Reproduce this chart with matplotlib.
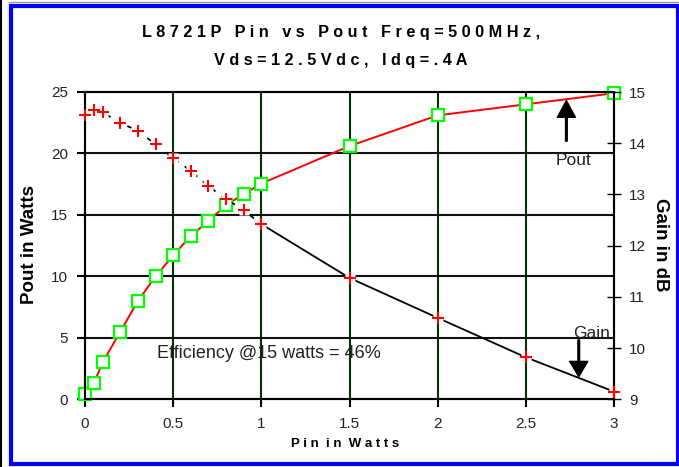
import matplotlib
matplotlib.use("Agg")
import matplotlib.pyplot as plt
from matplotlib.patches import Rectangle
from matplotlib.lines import Line2D

plt.rcParams["font.family"] = ["Liberation Sans", "DejaVu Sans"]

# data
pin = [0, 0.05, 0.1, 0.2, 0.3, 0.4, 0.5, 0.6, 0.7, 0.8, 0.9, 1.0, 1.5, 2.0, 2.5, 3.0]
pout = [0.4, 1.3, 3.0, 5.5, 8.0, 10.0, 11.7, 13.3, 14.5, 15.8, 16.7, 17.55, 20.6, 23.1, 24.0, 24.9]
gain = [14.56, 14.64, 14.6, 14.4, 14.24, 13.98, 13.71, 13.46, 13.16, 12.91, 12.69, 12.42,
        11.37, 10.59, 9.82, 9.15]
x_ticks = [0, 0.5, 1, 1.5, 2, 2.5, 3]
x_tick_labels = ["0", "0.5", "1", "1.5", "2", "2.5", "3"]
pout_ticks = [0, 5, 10, 15, 20, 25]
gain_ticks = [9, 10, 11, 12, 13, 14, 15]

title1 = "L8721P Pin vs Pout Freq=500MHz,"
title2 = "Vds=12.5Vdc, Idq=.4A"


def spaced(s):
    # wide letter spacing like the original
    return " ".join(s)


W, H = 679, 467
fig = plt.figure(figsize=(W / 100, H / 100), dpi=100)
ax = fig.add_axes([85 / W, (H - 399.3) / H, 529 / W, 307.3 / H])
ax2 = ax.twinx()

ax.set_xlim(0, 3)
ax.set_ylim(0, 25)
ax2.set_ylim(9, 15)

# grid
for v in x_ticks[1:-1]:
    ax.axvline(v, color="#003300", lw=1.5, zorder=1)
for h in pout_ticks[1:-1]:
    ax.axhline(h, color="#111111", lw=1.5, zorder=1)

for sp in ax.spines.values():
    sp.set_linewidth(1.5)
    sp.set_color("black")
for sp in ax2.spines.values():
    sp.set_linewidth(1.5)
    sp.set_color("black")

# Pout
ax.plot(pin, pout, color="red", lw=1.4, marker="s", markersize=8,
        markerfacecolor="white", markeredgecolor="#00ff00", markeredgewidth=1.6,
        zorder=3, clip_on=False)

# Gain: dotted up to 1 W, solid after
k = pin.index(1.0)
ax2.plot(pin[:k + 1], gain[:k + 1], color="black", lw=1.3, dashes=(2.5, 4), zorder=2)
ax2.plot(pin[k:], gain[k:], color="black", lw=1.3, zorder=2)
ax2.plot(pin, gain, ls="none", marker="s", markersize=7, markerfacecolor="white",
         markeredgecolor="none", zorder=3, clip_on=False)
ax2.plot(pin, gain, ls="none", marker="+", markersize=9, markeredgecolor="red",
         markeredgewidth=1.5, zorder=4, clip_on=False)

# ticks
ax.set_xticks(x_ticks)
ax.set_xticklabels(x_tick_labels)
ax.set_yticks(pout_ticks)
ax2.set_yticks(gain_ticks)
ax.tick_params(axis="x", direction="out", length=6, width=1.5, pad=7, labelsize=11)
ax.tick_params(axis="y", direction="out", length=6, width=1.5, pad=6, labelsize=11)
ax2.tick_params(axis="y", direction="inout", length=10, width=1, pad=6, labelsize=11)
for lab in ax.get_xticklabels() + ax.get_yticklabels() + ax2.get_yticklabels():
    lab.set_color("#222222")

# annotations
ax.text(0.41, 3.69, "Efficiency @15 watts = 46%", fontsize=13, ha="left", va="center",
        color="#222222", zorder=5)
ax.annotate("", xy=(2.73, 24.3), xytext=(2.73, 21.0),
            arrowprops=dict(facecolor="black", edgecolor="black", width=1.2,
                            headwidth=13, headlength=12, shrink=0))
ax.text(2.77, 19.4, "Pout", fontsize=12.5, ha="center", va="center", color="#222222")
ax.annotate("", xy=(2.80, 1.84), xytext=(2.80, 4.83),
            arrowprops=dict(facecolor="black", edgecolor="black", width=1.2,
                            headwidth=13, headlength=11, shrink=0), zorder=6)
ax.text(2.87, 5.36, "Gain", fontsize=12.5, ha="center", va="center", color="#222222",
        zorder=6)

# titles and axis labels
fig.text(341 / W, 1 - 33 / H, spaced(title1), fontsize=11.7, fontweight="bold",
         ha="center", va="center")
fig.text(341 / W, 1 - 60 / H, spaced(title2), fontsize=11.7, fontweight="bold",
         ha="center", va="center")
fig.text(345 / W, 1 - 444 / H, spaced("Pin in Watts").replace("   ", "  "), fontsize=9.5,
         fontweight="bold", ha="center", va="center")
fig.text(30 / W, 1 - 245 / H, "Pout in Watts", fontsize=13.5, fontweight="bold",
         rotation=90, ha="center", va="center")
fig.text(660 / W, 1 - 245 / H, "Gain in dB", fontsize=13.5, fontweight="bold",
         rotation=-90, ha="center", va="center")

# frame around the figure
fig.patches.append(Rectangle((11 / W, 1 - 463.5 / H), 666.5 / W, 457.5 / H,
                             transform=fig.transFigure, fill=False,
                             edgecolor="#0000ff", lw=3))
fig.lines.append(Line2D([1 / W, 1 / W], [0, 1], transform=fig.transFigure,
                        color="black", lw=1.5))
fig.lines.append(Line2D([9 / W, 1], [1 - 2 / H, 1 - 2 / H], transform=fig.transFigure,
                        color="#999999", lw=1))

fig.savefig("out.png", dpi=100)
